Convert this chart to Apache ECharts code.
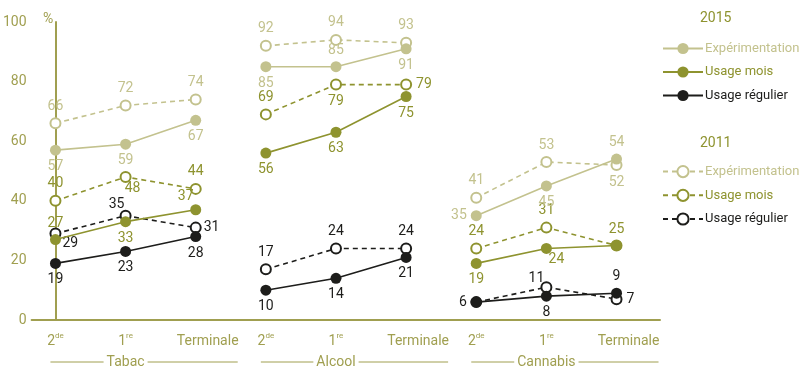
<!DOCTYPE html>
<html><head><meta charset="utf-8">
<script src="https://cdn.jsdelivr.net/npm/echarts@6/dist/echarts.min.js"></script>
<style>html,body{margin:0;padding:0;background:#fff}#c{width:800px;height:386px}</style>
</head><body><div id="c"></div>
<script>
// ---- data ----
const categories = ['2de', '1re', 'Terminale'];
const groups = ['Tabac', 'Alcool', 'Cannabis'];
const yTicks = [0, 20, 40, 60, 80, 100];
// values per group: Tabac (2de,1re,Term), Alcool (...), Cannabis (...)
const exp2015  = [57, 59, 67,  85, 85, 91,  35, 45, 54];
const mois2015 = [27, 33, 37,  56, 63, 75,  19, 24, 25];
const reg2015  = [19, 23, 28,  10, 14, 21,   6,  8,  9];
const exp2011  = [66, 72, 74,  92, 94, 93,  41, 53, 52];
const mois2011 = [40, 48, 44,  69, 79, 79,  24, 31, 25];
const reg2011  = [29, 35, 31,  17, 24, 24,   6, 11,  7];
const legendNames = ['Expérimentation', 'Usage mois', 'Usage régulier'];

// ---- styles ----
const FONT = "Roboto,'Liberation Sans',sans-serif";
const C_LIGHT = '#c3c28e', C_OLIVE = '#8e932f', C_BLACK = '#1d1d1b', C_AXIS = '#a09f50';
// label placement per point: [position, dx, dy] or null (hidden)
const T = ['top', 0, 0], B = ['bottom', 0, 0], L = ['left', 0, 0], R = ['right', 0, 0];
const lblExp2015  = [B, B, B,  B, T, B,  L, B, T];
const lblMois2015 = [T, B, ['top', -10, 3],  B, B, B,  B, ['bottom', 10, -5], T];
const lblReg2015  = [B, B, B,  B, B, B,  L, B, T];
const lblExp2011  = [T, T, T,  T, T, T,  T, T, B];
const lblMois2011 = [T, ['bottom', 7, -5], T,  T, B, R,  T, T, null];
const lblReg2011  = [['right', -3, 10], ['top', -9, 6], ['right', -2, 0],  T, T, T,  null, ['top', -10, 8], R];

const defs = [
  { name: '2011 ' + legendNames[0], vals: exp2011,  lbl: lblExp2011,  color: C_LIGHT, dashed: true },
  { name: '2011 ' + legendNames[1], vals: mois2011, lbl: lblMois2011, color: C_OLIVE, dashed: true },
  { name: '2011 ' + legendNames[2], vals: reg2011,  lbl: lblReg2011,  color: C_BLACK, dashed: true },
  { name: '2015 ' + legendNames[0], vals: exp2015,  lbl: lblExp2015,  color: C_LIGHT, dashed: false },
  { name: '2015 ' + legendNames[1], vals: mois2015, lbl: lblMois2015, color: C_OLIVE, dashed: false },
  { name: '2015 ' + legendNames[2], vals: reg2015,  lbl: lblReg2015,  color: C_BLACK, dashed: false }
];

function buildData(d) {
  const out = [];
  d.vals.forEach((v, i) => {
    if (i > 0 && i % 3 === 0) out.push([i - 0.5, '-']);
    const p = d.lbl[i];
    const item = { value: [i, v] };
    if (p === null) item.label = { show: false };
    else item.label = { position: p[0], offset: [p[1], p[2]] };
    out.push(item);
  });
  return out;
}

const series = defs.map(d => ({
  name: d.name,
  type: 'line',
  data: buildData(d),
  connectNulls: false,
  symbol: 'circle',
  symbolSize: d.dashed ? 10 : 11,
  z: d.dashed ? 2 : 3,
  lineStyle: { color: d.color, width: 1.6, type: d.dashed ? [5, 4] : 'solid' },
  itemStyle: d.dashed ? { color: '#ffffff', borderColor: d.color, borderWidth: 2 } : { color: d.color, borderWidth: 0 },
  label: { show: true, formatter: p => p.value[1], color: d.color, fontFamily: FONT, fontSize: 14, distance: 4 },
  emphasis: { disabled: true },
  animation: false
}));

function legendFor(year, top) {
  return {
    orient: 'vertical', left: 657, top: top, itemWidth: 40, itemHeight: 14, itemGap: 10.5,
    selectedMode: false,
    formatter: n => n.replace(/^\d{4} /, ''),
    textStyle: { fontFamily: FONT, fontSize: 13, padding: [0, 0, 0, -3] },
    data: defs.filter(d => d.name.startsWith(year)).map(d => ({ name: d.name, textStyle: { color: d.color } }))
  };
}

const chart = echarts.init(document.getElementById('c'));
chart.setOption({
  animation: false,
  grid: { left: 31, right: 140, top: 22, bottom: 66, containLabel: false },
  xAxis: {
    type: 'value', min: -0.34, max: 8.62,
    axisLine: { show: true, lineStyle: { color: C_AXIS, width: 2 } },
    axisTick: { show: false }, splitLine: { show: false },
    axisLabel: {
      customValues: [0, 1, 2, 3, 4, 5, 6, 7, 8],
      margin: 12,
      color: C_AXIS, fontFamily: FONT, fontSize: 14,
      formatter: v => {
        const c = categories[Math.round(v) % 3];
        if (c === '2de') return '{n|2}{s|de}';
        if (c === '1re') return '{n|1}{s|re}';
        return '{t|Terminale}';
      },
      rich: {
        n: { fontFamily: FONT, fontSize: 14, color: C_AXIS, lineHeight: 18 },
        s: { fontFamily: FONT, fontSize: 8, color: C_AXIS, verticalAlign: 'top', lineHeight: 18 },
        t: { fontFamily: FONT, fontSize: 14, color: C_AXIS, padding: [0, 0, 0, 24], lineHeight: 18 }
      }
    }
  },
  yAxis: {
    type: 'value', min: 0, max: 100, interval: 20,
    axisLine: { show: true, lineStyle: { color: C_AXIS, width: 2 } },
    axisTick: { show: false }, splitLine: { show: false },
    axisLabel: { color: C_AXIS, fontFamily: FONT, fontSize: 14, margin: 5 }
  },
  legend: [legendFor('2015', 37), legendFor('2011', 160)],
  series: series
});

// headings and group labels
const ctx = document.createElement('canvas').getContext('2d');
ctx.font = '14px ' + FONT;
const gfx = [
  { type: 'text', left: 43, top: 12, style: { text: '%', fill: C_AXIS, font: '14px ' + FONT } },
  { type: 'text', left: 700, top: 11, style: { text: '2015', fill: C_OLIVE, font: '14px ' + FONT } },
  { type: 'text', left: 700, top: 136, style: { text: '2011', fill: C_OLIVE, font: '14px ' + FONT } }
];
groups.forEach((g, gi) => {
  const yLine = 362;
  const x0 = chart.convertToPixel({ gridIndex: 0 }, [gi * 3, 0])[0];
  const x1 = chart.convertToPixel({ gridIndex: 0 }, [gi * 3 + 1, 0])[0];
  const x2 = chart.convertToPixel({ gridIndex: 0 }, [gi * 3 + 2, 0])[0];
  const w = ctx.measureText(g).width;
  gfx.push({ type: 'text', x: x1, y: yLine, style: { text: g, fill: C_AXIS, font: '14px ' + FONT, align: 'center', verticalAlign: 'middle' } });
  gfx.push({ type: 'line', shape: { x1: x0 - 5, y1: yLine, x2: x1 - w / 2 - 3, y2: yLine }, style: { stroke: C_AXIS, lineWidth: 1 } });
  gfx.push({ type: 'line', shape: { x1: x1 + w / 2 + 3, y1: yLine, x2: x2 + 42, y2: yLine }, style: { stroke: C_AXIS, lineWidth: 1 } });
});
chart.setOption({ graphic: gfx });
</script></body></html>
